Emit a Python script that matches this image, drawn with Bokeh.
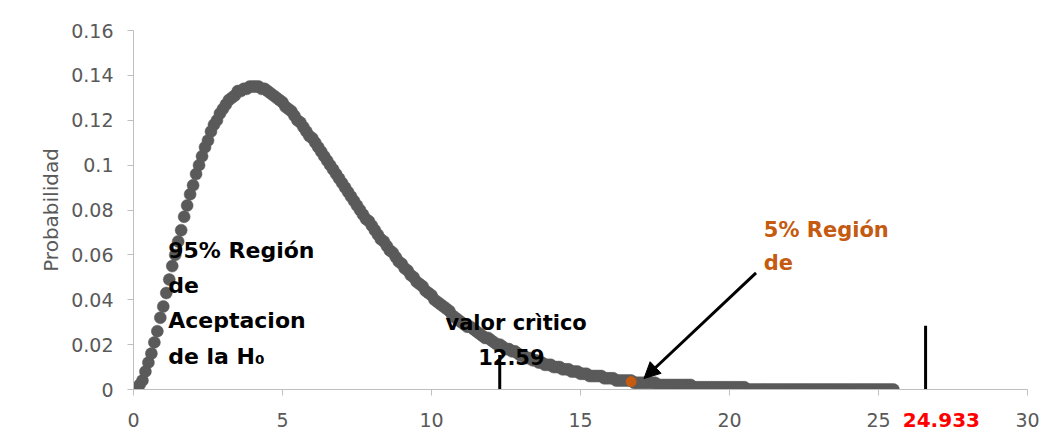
from bokeh.plotting import figure
from bokeh.models import Range1d, FixedTicker, CustomJSTickFormatter, Label, Arrow, NormalHead
from bokeh.embed import file_html
from bokeh.resources import INLINE

# chi-square values (x) and probabilities
chi_x = [
    0.0, 0.1, 0.2, 0.3, 0.4, 0.5, 0.6, 0.7, 0.8, 0.9,
    1.0, 1.1, 1.2, 1.3, 1.4, 1.5, 1.6, 1.7, 1.8, 1.9,
    2.0, 2.1, 2.2, 2.3, 2.4, 2.5, 2.6, 2.7, 2.8, 2.9,
    3.0, 3.1, 3.2, 3.3, 3.4, 3.5, 3.6, 3.7, 3.8, 3.9,
    4.0, 4.1, 4.2, 4.3, 4.4, 4.5, 4.6, 4.7, 4.8, 4.9,
    5.0, 5.1, 5.2, 5.3, 5.4, 5.5, 5.6, 5.7, 5.8, 5.9,
    6.0, 6.1, 6.2, 6.3, 6.4, 6.5, 6.6, 6.7, 6.8, 6.9,
    7.0, 7.1, 7.2, 7.3, 7.4, 7.5, 7.6, 7.7, 7.8, 7.9,
    8.0, 8.1, 8.2, 8.3, 8.4, 8.5, 8.6, 8.7, 8.8, 8.9,
    9.0, 9.1, 9.2, 9.3, 9.4, 9.5, 9.6, 9.7, 9.8, 9.9,
    10.0, 10.1, 10.2, 10.3, 10.4, 10.5, 10.6, 10.7, 10.8, 10.9,
    11.0, 11.1, 11.2, 11.3, 11.4, 11.5, 11.6, 11.7, 11.8, 11.9,
    12.0, 12.1, 12.2, 12.3, 12.4, 12.5, 12.6, 12.7, 12.8, 12.9,
    13.0, 13.1, 13.2, 13.3, 13.4, 13.5, 13.6, 13.7, 13.8, 13.9,
    14.0, 14.1, 14.2, 14.3, 14.4, 14.5, 14.6, 14.7, 14.8, 14.9,
    15.0, 15.1, 15.2, 15.3, 15.4, 15.5, 15.6, 15.7, 15.8, 15.9,
    16.0, 16.1, 16.2, 16.3, 16.4, 16.5, 16.6, 16.7, 16.8, 16.9,
    17.0, 17.1, 17.2, 17.3, 17.4, 17.5, 17.6, 17.7, 17.8, 17.9,
    18.0, 18.1, 18.2, 18.3, 18.4, 18.5, 18.6, 18.7, 18.8, 18.9,
    19.0, 19.1, 19.2, 19.3, 19.4, 19.5, 19.6, 19.7, 19.8, 19.9,
    20.0, 20.1, 20.2, 20.3, 20.4, 20.5, 20.6, 20.7, 20.8, 20.9,
    21.0, 21.1, 21.2, 21.3, 21.4, 21.5, 21.6, 21.7, 21.8, 21.9,
    22.0, 22.1, 22.2, 22.3, 22.4, 22.5, 22.6, 22.7, 22.8, 22.9,
    23.0, 23.1, 23.2, 23.3, 23.4, 23.5, 23.6, 23.7, 23.8, 23.9,
    24.0, 24.1, 24.2, 24.3, 24.4, 24.5, 24.6, 24.7, 24.8, 24.9,
    25.0, 25.1, 25.2, 25.3, 25.4, 25.5,
]
prob = [
    0.000, 0.000, 0.002, 0.004, 0.008, 0.012, 0.016, 0.021, 0.026, 0.032,
    0.037, 0.043, 0.049, 0.055, 0.060, 0.066, 0.071, 0.077, 0.082, 0.087,
    0.091, 0.096, 0.100, 0.104, 0.108, 0.111, 0.115, 0.118, 0.120, 0.123,
    0.125, 0.127, 0.129, 0.130, 0.131, 0.133, 0.133, 0.134, 0.134, 0.135,
    0.135, 0.135, 0.135, 0.134, 0.134, 0.133, 0.132, 0.131, 0.130, 0.129,
    0.128, 0.126, 0.125, 0.124, 0.122, 0.120, 0.119, 0.117, 0.115, 0.113,
    0.112, 0.110, 0.108, 0.106, 0.104, 0.102, 0.100, 0.098, 0.096, 0.094,
    0.092, 0.090, 0.088, 0.086, 0.084, 0.082, 0.080, 0.078, 0.076, 0.075,
    0.073, 0.071, 0.069, 0.067, 0.066, 0.064, 0.062, 0.061, 0.059, 0.057,
    0.056, 0.054, 0.053, 0.051, 0.050, 0.048, 0.047, 0.046, 0.044, 0.043,
    0.042, 0.040, 0.039, 0.038, 0.037, 0.036, 0.035, 0.033, 0.032, 0.031,
    0.030, 0.029, 0.028, 0.028, 0.027, 0.026, 0.025, 0.024, 0.023, 0.023,
    0.022, 0.021, 0.020, 0.020, 0.019, 0.018, 0.018, 0.017, 0.017, 0.016,
    0.015, 0.015, 0.014, 0.014, 0.013, 0.013, 0.012, 0.012, 0.011, 0.011,
    0.011, 0.010, 0.010, 0.010, 0.009, 0.009, 0.009, 0.008, 0.008, 0.008,
    0.007, 0.007, 0.007, 0.006, 0.006, 0.006, 0.006, 0.006, 0.005, 0.005,
    0.005, 0.005, 0.004, 0.004, 0.004, 0.004, 0.004, 0.004, 0.003, 0.003,
    0.003, 0.003, 0.003, 0.003, 0.003, 0.003, 0.002, 0.002, 0.002, 0.002,
    0.002, 0.002, 0.002, 0.002, 0.002, 0.002, 0.002, 0.002, 0.001, 0.001,
    0.001, 0.001, 0.001, 0.001, 0.001, 0.001, 0.001, 0.001, 0.001, 0.001,
    0.001, 0.001, 0.001, 0.001, 0.001, 0.001, 0.000, 0.000, 0.000, 0.000,
    0.000, 0.000, 0.000, 0.000, 0.000, 0.000, 0.000, 0.000, 0.000, 0.000,
    0.000, 0.000, 0.000, 0.000, 0.000, 0.000, 0.000, 0.000, 0.000, 0.000,
    0.000, 0.000, 0.000, 0.000, 0.000, 0.000, 0.000, 0.000, 0.000, 0.000,
    0.000, 0.000, 0.000, 0.000, 0.000, 0.000, 0.000, 0.000, 0.000, 0.000,
    0.000, 0.000, 0.000, 0.000, 0.000, 0.000,
]

# highlighted point (5% region)
sel_x = [16.70]
sel_y = [0.0035]

# vertical marker lines
mark_x = [12.29, 26.58]
mark_top = [0.0154, 0.0284]

x_ticks = [0, 5, 10, 15, 20, 25, 30]
y_ticks = [0, 0.02, 0.04, 0.06, 0.08, 0.10, 0.12, 0.14, 0.16]

GRAY_TXT = "#595959"
AXIS_C = "#BFBFBF"
ORANGE = "#C55A11"
FONT = "DejaVu Sans"

p = figure(width=1046, height=434, output_backend="svg", toolbar_location=None,
           x_range=Range1d(0, 30), y_range=Range1d(0, 0.16),
           min_border_left=133, min_border_right=19, min_border_top=30, min_border_bottom=45)
p.outline_line_color = None
p.xgrid.visible = False
p.ygrid.visible = False

p.scatter(chi_x, prob, size=12, fill_color="#5A5A5A", line_color="#5A5A5A", line_width=0.5)
p.scatter(sel_x, sel_y, size=10, fill_color=ORANGE, line_color=ORANGE)
p.segment(x0=mark_x, y0=[0, 0], x1=mark_x, y1=mark_top, line_color="black", line_width=3)

for ax in (p.xaxis[0], p.yaxis[0]):
    ax.axis_line_color = AXIS_C
    ax.major_tick_line_color = AXIS_C
    ax.minor_tick_line_color = None
    ax.major_tick_in = 0
    ax.major_tick_out = 6
    ax.major_label_text_font = FONT
    ax.major_label_text_font_size = "19px"
    ax.major_label_text_color = GRAY_TXT

p.xaxis.ticker = FixedTicker(ticks=x_ticks)
p.xaxis.major_label_standoff = 17
p.yaxis.ticker = FixedTicker(ticks=y_ticks)
p.yaxis.major_label_standoff = 14
p.yaxis.formatter = CustomJSTickFormatter(
    code="return tick.toFixed(2).replace(/0+$/, '').replace(/\\.$/, '');")
p.yaxis.axis_label = "Probabilidad"
p.yaxis.axis_label_text_font = FONT
p.yaxis.axis_label_text_font_size = "20px"
p.yaxis.axis_label_text_font_style = "normal"
p.yaxis.axis_label_text_color = GRAY_TXT
p.yaxis.axis_label_standoff = 5


def make_label(x, y, text, color="black", size="22px", align="left"):
    return Label(x=x, y=y, text=text, text_font=FONT, text_font_style="bold",
                 text_font_size=size, text_color=color, text_align=align,
                 text_baseline="alphabetic")


for args in [
    (1.165, 0.0621, "95% Región"),
    (1.165, 0.0465, "de"),
    (1.165, 0.0309, "Aceptacion"),
    (1.165, 0.01454, "de la H₀"),
]:
    p.add_layout(make_label(*args))
p.add_layout(make_label(12.84, 0.02944, "valor crìtico", size="21px", align="center"))
p.add_layout(make_label(12.68, 0.01454, "12.59", size="21px", align="center"))
p.add_layout(make_label(21.15, 0.0711, "5% Región", color=ORANGE, size="21px"))
p.add_layout(make_label(21.15, 0.0562, "de", color=ORANGE, size="21px"))
# value label sits below the x axis; kept in a side panel so it is not clipped to the frame
p.add_layout(make_label(27.11, -0.0137, "24.933", color="#FF0000", size="20px", align="center"), "above")

p.add_layout(Arrow(end=NormalHead(size=16, fill_color="black", line_color="black"),
                   x_start=20.89, y_start=0.052, x_end=17.13, y_end=0.0049,
                   line_width=3, line_color="black"))

open("out.html", "w").write(file_html(p, INLINE))
